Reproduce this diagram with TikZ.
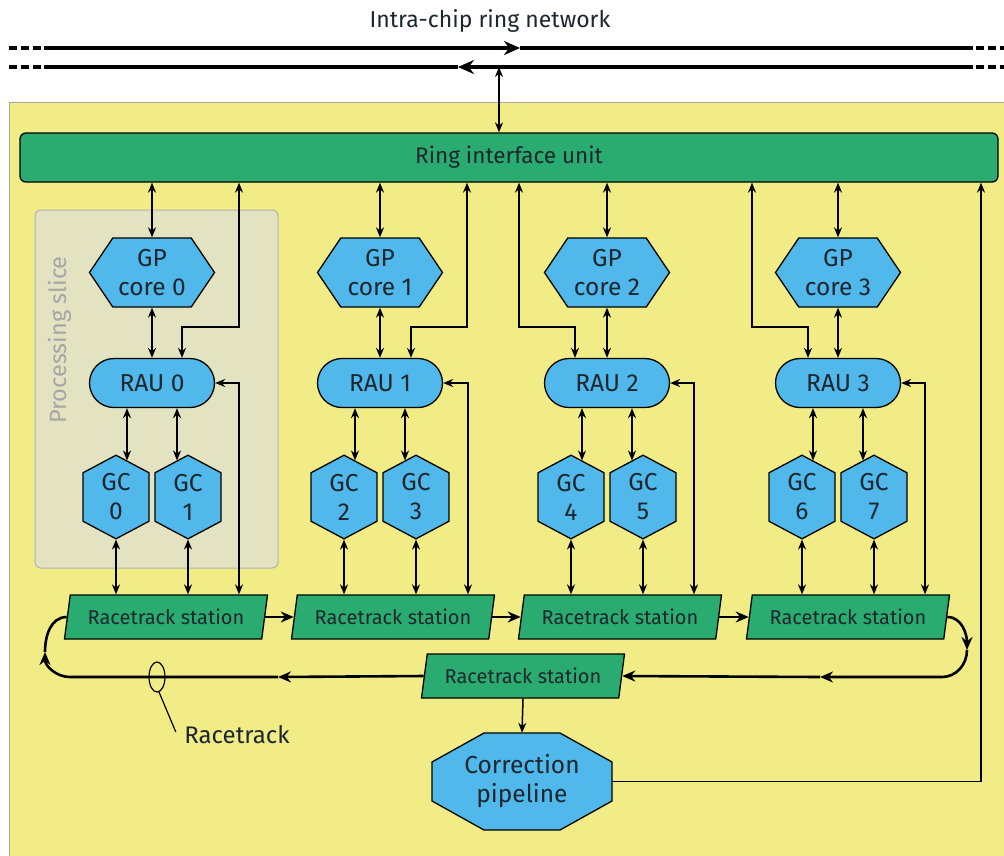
\documentclass[tikz,border=0pt]{standalone}
\usepackage{fontspec}
\setmainfont{Fira Sans}
\usepackage{xcolor}
\usepackage{tikz}
\usetikzlibrary{calc, arrows.meta, shapes.geometric, shapes.misc, shapes.symbols}
\definecolor{ylw}{RGB}{241,236,134}
\definecolor{grn}{RGB}{42,172,112}
\definecolor{blu}{RGB}{80,184,234}
\definecolor{slcfill}{RGB}{227,227,194}
\definecolor{txt}{RGB}{28,38,46}
\newcommand{\blkfont}{\fontsize{24.5}{29}\selectfont}
\newcommand{\stfont}{\fontsize{20}{24}\selectfont}
\tikzset{
  blk/.style = {align=center, inner sep=0pt, text centered, text=txt,
    font=\blkfont, draw=black, line width=1.3pt},
  riu_n/.style = {blk, rectangle, rounded corners=6pt, fill=grn,
    font=\fontsize{22.5}{26}\selectfont,
    minimum width=978pt, minimum height=49pt},% ring interface unit
  gp_n/.style = {blk, signal, signal to=east and west, signal pointer angle=112,
    fill=blu, minimum width=125pt, minimum height=69pt},% GP core
  rau_n/.style = {blk, rounded rectangle, fill=blu,
    minimum width=125pt, minimum height=49pt},% RAU
  gc_n/.style = {blk, signal, signal to=north and south, signal pointer angle=124,
    fill=blu, minimum width=66pt, minimum height=64pt},% GC
  rt_n/.style = {blk, trapezium, trapezium left angle=70, trapezium right angle=110,
    trapezium stretches body, fill=grn, font=\stfont,
    minimum width=203pt, minimum height=44pt},% racetrack station
  cp_n/.style = {align=center, inner sep=0pt, text=txt, font=\blkfont,
    minimum width=180pt, minimum height=97pt},% correction pipeline (text)
  cp_s/.style = {draw=black, line width=1.3pt, fill=blu},% correction pipeline (octagon)
  con/.style = {line width=1.5pt, -{Stealth[length=10pt,width=8pt]}},
  dbl/.style = {line width=1.5pt, {Stealth[length=10pt,width=8pt]}-{Stealth[length=10pt,width=8pt]}},
  rtk/.style = {line width=2.6pt},
  rtk_a/.style = {rtk, -{Stealth[length=13pt,width=11pt]}},
  ring/.style = {line width=3.8pt},
  ring_d/.style = {line width=3.8pt, dash pattern=on 8pt off 4pt}
}
\begin{document}
\begin{tikzpicture}[x=1pt, y=-1pt]
\useasboundingbox (0,0) rectangle (1004,855);
\fill[white] (0,0) rectangle (1004,855);
\draw[black!35, fill=ylw] (9,102) rectangle (1012,862);

% intra-chip ring
\node[text=txt, font=\fontsize{23}{27}\selectfont] (ttl) at (490,21) {Intra-chip ring network};
\coordinate (r1w) at (44,48);
\coordinate (r1m) at (520,48);
\coordinate (r1e) at (973,48);
\coordinate (r2w) at (44,67);
\coordinate (r2m) at (458,67);
\coordinate (r2e) at (973,67);
\draw[ring, -{Stealth[length=16pt,width=14pt]}] (r1w) -- (r1m);
\draw[ring] (r1m) -- (r1e);
\draw[ring, -{Stealth[length=16pt,width=14pt]}] (r2e) -- (r2m);
\draw[ring] (r2m) -- (r2w);
\draw[ring_d] (r1w) ++(-3,0) -- ++(-33,0);
\draw[ring_d] (r2w) ++(-3,0) -- ++(-33,0);
\draw[ring_d] (r1e) ++(3,0) -- ++(33,0);
\draw[ring_d] (r2e) ++(3,0) -- ++(33,0);

% processing slice
\node[draw=black!30, line width=1pt, fill=slcfill, rounded corners=6pt,
  minimum width=243pt, minimum height=358pt] (pslice) at (156.5,389) {};
\node[rotate=90, text=black!35, font=\fontsize{23.5}{27}\selectfont] (pslt) at (60,340) {Processing slice};

\node[riu_n] (riu) at (509,157.5) {Ring interface unit};

\node[gp_n] (gp0) at (152,272.5) {GP\\core 0};
\node[gp_n] (gp1) at (380,272.5) {GP\\core 1};
\node[gp_n] (gp2) at (607,272.5) {GP\\core 2};
\node[gp_n] (gp3) at (838,272.5) {GP\\core 3};

\node[rau_n] (rau0) at (152,383) {RAU 0};
\node[rau_n] (rau1) at (380,383) {RAU 1};
\node[rau_n] (rau2) at (607,383) {RAU 2};
\node[rau_n] (rau3) at (838,383) {RAU 3};

\node[gc_n] (gc0) at (116,497) {GC\\0};
\node[gc_n] (gc1) at (188,497) {GC\\1};
\node[gc_n] (gc2) at (344,497) {GC\\2};
\node[gc_n] (gc3) at (416,497) {GC\\3};
\node[gc_n] (gc4) at (571,497) {GC\\4};
\node[gc_n] (gc5) at (643,497) {GC\\5};
\node[gc_n] (gc6) at (802,497) {GC\\6};
\node[gc_n] (gc7) at (874,497) {GC\\7};

\node[rt_n] (st0) at (166,617) {Racetrack station};
\node[rt_n] (st1) at (393,617) {Racetrack station};
\node[rt_n] (st2) at (620,617) {Racetrack station};
\node[rt_n] (st3) at (848,617) {Racetrack station};
\node[rt_n] (st4) at (523,676) {Racetrack station};

\draw[cp_s] (484,733) -- (560,733) -- (612,762) -- (612,801) -- (560,830)
  -- (484,830) -- (432,801) -- (432,762) -- cycle;
\node[cp_n] (corr) at (522,781.5) {Correction\\pipeline};

% ring interface links
\coordinate (tap) at (499,67);
\draw[dbl] (riu.north -| tap) -- (tap);
\coordinate (k0) at (239,327);
\coordinate (k1) at (467,327);
\coordinate (k2) at (519,327);
\coordinate (k3) at (752,327);
\coordinate (q0) at (239,0);
\coordinate (q1) at (468,0);
\coordinate (q2) at (694,0);
\coordinate (q3) at (925,0);

\draw[dbl] (riu.south -| gp0) -- (gp0.north);
\draw[dbl] (riu.south -| gp1) -- (gp1.north);
\draw[dbl] (riu.south -| gp2) -- (gp2.north);
\draw[dbl] (riu.south -| gp3) -- (gp3.north);
\draw[dbl] (gp0.south) -- (rau0.north);
\draw[dbl] (gp1.south) -- (rau1.north);
\draw[dbl] (gp2.south) -- (rau2.north);
\draw[dbl] (gp3.south) -- (rau3.north);
\draw[dbl] (riu.south -| k0) -- (k0) -| ([xshift=30pt]rau0.north);
\draw[dbl] (riu.south -| k1) -- (k1) -| ([xshift=31pt]rau1.north);
\draw[dbl] (riu.south -| k2) -- (k2) -| ([xshift=-32pt]rau2.north);
\draw[dbl] (riu.south -| k3) -- (k3) -| ([xshift=-30pt]rau3.north);
\draw[dbl] (rau0.east) -| (q0 |- st0.north);
\draw[dbl] (rau1.east) -| (q1 |- st1.north);
\draw[dbl] (rau2.east) -| (q2 |- st2.north);
\draw[dbl] (rau3.east) -| (q3 |- st3.north);

% RAU to GC
\draw[dbl] ([xshift=-25pt]rau0.south) -- ([xshift=-25pt,yshift=-6pt]rau0.south |- gc0.north);
\draw[dbl] ([xshift=25pt]rau0.south) -- ([xshift=25pt,yshift=-6pt]rau0.south |- gc1.north);
\draw[dbl] ([xshift=-25pt]rau1.south) -- ([xshift=-25pt,yshift=-6pt]rau1.south |- gc2.north);
\draw[dbl] ([xshift=25pt]rau1.south) -- ([xshift=25pt,yshift=-6pt]rau1.south |- gc3.north);
\draw[dbl] ([xshift=-25pt]rau2.south) -- ([xshift=-25pt,yshift=-6pt]rau2.south |- gc4.north);
\draw[dbl] ([xshift=25pt]rau2.south) -- ([xshift=25pt,yshift=-6pt]rau2.south |- gc5.north);
\draw[dbl] ([xshift=-25pt]rau3.south) -- ([xshift=-25pt,yshift=-6pt]rau3.south |- gc6.north);
\draw[dbl] ([xshift=25pt]rau3.south) -- ([xshift=25pt,yshift=-6pt]rau3.south |- gc7.north);

% GC to racetrack
\draw[dbl] (gc0.south) -- (gc0.south |- st0.north);
\draw[dbl] (gc1.south) -- (gc1.south |- st0.north);
\draw[dbl] (gc2.south) -- (gc2.south |- st1.north);
\draw[dbl] (gc3.south) -- (gc3.south |- st1.north);
\draw[dbl] (gc4.south) -- (gc4.south |- st2.north);
\draw[dbl] (gc5.south) -- (gc5.south |- st2.north);
\draw[dbl] (gc6.south) -- (gc6.south |- st3.north);
\draw[dbl] (gc7.south) -- (gc7.south |- st3.north);

% racetrack
\coordinate (lpR) at (967,650);
\coordinate (mR) at (820,677);
\coordinate (mL) at (278,677);
\coordinate (lpL) at (45,652);
\draw[rtk_a] (st0.east) -- (st1.west);
\draw[rtk_a] (st1.east) -- (st2.west);
\draw[rtk_a] (st2.east) -- (st3.west);
\draw[rtk_a] (st3.east) to[out=0, in=90] (lpR);
\draw[rtk_a] (lpR) to[out=-90, in=0] ($(lpR |- mR)+(-25,0)$) -- (mR);
\draw[rtk_a] (mR) -- (st4.east);
\draw[rtk_a] (st4.west) -- (mL);
\draw[rtk_a] (mL) -- ($(lpL |- mL)+(25,0)$) to[out=180, in=-90] (lpL);
\draw[rtk] (lpL) to[out=90, in=180] (st0.west);

\coordinate (rtr) at (157,677);
\draw[line width=1.2pt] (rtr) ellipse [x radius=8, y radius=15];
\node[text=txt, font=\fontsize{24}{28}\selectfont] (rtl) at (237,735) {Racetrack};
\draw[line width=1.2pt] ([xshift=2pt,yshift=-15pt]rtr) -- ([xshift=-5pt,yshift=3pt]rtl.west);

% correction pipeline
\coordinate (ret) at (981,782);
\draw[con] (st4.south) -- (corr.north);
\draw[con] (corr.east) -| (riu.south -| ret);
\end{tikzpicture}
\end{document}
